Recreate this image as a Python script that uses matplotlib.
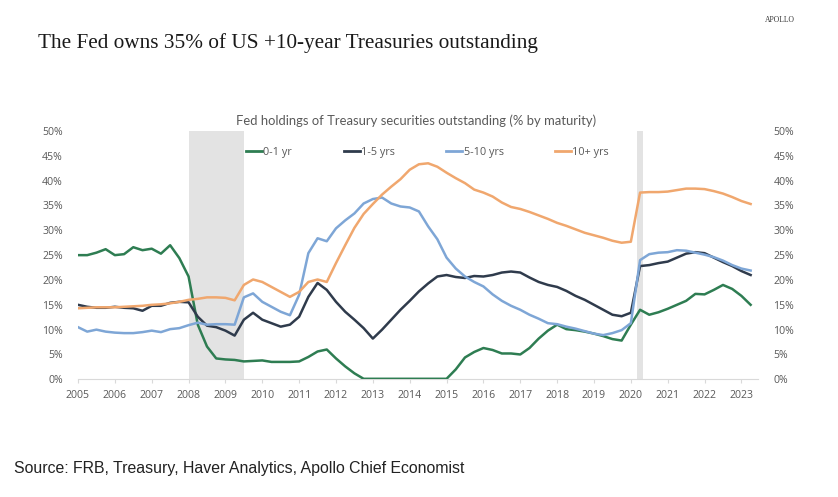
import numpy as np
import matplotlib.pyplot as plt

# quarterly observations, Q1 2005 .. Q2 2023 (% of outstanding held by the Fed)
start_year = 2005
short_0_1 = [25.0, 25.0, 25.5, 26.2,  25.0, 25.2, 26.6, 26.0,  26.3, 25.3, 27.0, 24.4,
             20.7, 11.0, 6.6, 4.2,  4.0, 3.9, 3.6, 3.7,  3.8, 3.5, 3.5, 3.5,
             3.6, 4.5, 5.6, 6.0,  4.2, 2.6, 1.2, 0.1,  0.1, 0.1, 0.1, 0.1,
             0.1, 0.1, 0.1, 0.1,  0.1, 2.0, 4.4, 5.5,  6.3, 5.9, 5.2, 5.2,
             5.0, 6.3, 8.2, 9.8,  11.0, 10.1, 9.9, 9.6,  9.2, 8.7, 8.1, 7.8,
             11.0, 14.0, 13.0, 13.5,  14.2, 15.0, 15.8, 17.2,  17.1, 18.0, 19.0, 18.2,
             16.8, 15.0]
mid_1_5 = [15.0, 14.6, 14.4, 14.4,  14.6, 14.4, 14.3, 13.8,  14.8, 14.8, 15.4, 15.6,
           15.5, 12.6, 10.8, 10.5,  9.8, 8.8, 12.0, 13.4,  12.0, 11.3, 10.6, 11.0,
           12.6, 16.6, 19.4, 18.0,  15.6, 13.6, 12.0, 10.3,  8.2, 10.0, 12.0, 14.0,
           15.8, 17.7, 19.3, 20.7,  21.0, 20.6, 20.4, 20.8,  20.7, 21.0, 21.5, 21.7,
           21.5, 20.5, 19.6, 19.0,  18.6, 17.8, 16.8, 16.0,  15.0, 14.0, 13.0, 12.7,
           13.4, 22.8, 23.0, 23.4,  23.7, 24.5, 25.3, 25.6,  25.4, 24.5, 23.6, 22.8,
           21.8, 21.0]
mid_5_10 = [10.5, 9.6, 10.0, 9.6,  9.4, 9.3, 9.3, 9.5,  9.8, 9.5, 10.1, 10.3,
            10.9, 11.4, 11.0, 11.1,  11.1, 11.0, 16.5, 17.3,  15.6, 14.6, 13.6, 12.9,
            17.0, 25.4, 28.4, 27.8,  30.4, 32.0, 33.4, 35.4,  36.3, 36.6, 35.4, 34.8,
            34.6, 33.8, 30.8, 28.2,  24.5, 22.3, 20.7, 19.6,  18.7, 17.1, 15.8, 14.8,
            14.0, 13.0, 12.2, 11.3,  11.1, 10.6, 10.2, 9.7,  9.2, 8.9, 9.3, 9.9,
            11.3, 24.0, 25.2, 25.5,  25.6, 26.0, 25.9, 25.5,  25.1, 24.6, 23.9, 23.0,
            22.3, 21.9]
long_10 = [14.3, 14.4, 14.5, 14.5,  14.5, 14.6, 14.7, 14.8,  15.0, 15.1, 15.3, 15.6,
           16.0, 16.2, 16.5, 16.5,  16.4, 15.9, 19.0, 20.1,  19.6, 18.6, 17.6, 16.6,
           17.6, 19.6, 20.1, 19.6,  23.4, 27.0, 30.5, 33.3,  35.3, 37.2, 38.8, 40.3,
           42.2, 43.3, 43.5, 42.8,  41.6, 40.5, 39.5, 38.2,  37.6, 36.8, 35.6, 34.7,
           34.3, 33.7, 33.0, 32.3,  31.5, 30.9, 30.2, 29.5,  29.0, 28.5, 27.9, 27.5,
           27.7, 37.6, 37.7, 37.7,  37.8, 38.1, 38.4, 38.4,  38.3, 37.9, 37.4, 36.7,
           35.9, 35.3]

series_names = ["0-1 yr", "1-5 yrs", "5-10 yrs", "10+ yrs"]
series_colors = ["#2e7d52", "#2f3b4c", "#7ea6d6", "#f0a76e"]
recessions = [(2008.0, 2009.5), (2020.17, 2020.33)]
year_ticks = list(range(2005, 2024))

t = start_year + np.arange(len(short_0_1)) / 4.0

fig = plt.figure(figsize=(8.38, 4.97), dpi=100)
ax = fig.add_axes([78 / 838, 1 - 379.3 / 497, 680 / 838, 248.3 / 497])

for a, b in recessions:
    ax.axvspan(a, b, color="#e3e3e3", lw=0, zorder=0)

for vals, name, col in zip([short_0_1, mid_1_5, mid_5_10, long_10], series_names, series_colors):
    ax.plot(t, vals, color=col, lw=1.8, label=name, zorder=3)

ax.set_xlim(2005, 2023.45)
ax.set_ylim(0, 50)
ax.set_xticks(year_ticks)
ax.set_xticklabels([str(y) for y in year_ticks])
ax.set_yticks(range(0, 51, 5))
ax.set_yticklabels([f"{v}%" for v in range(0, 51, 5)])
for s in ["top", "left", "right"]:
    ax.spines[s].set_visible(False)
ax.spines["bottom"].set_color("#d9d9d9")
ax.tick_params(axis="x", colors="#595959", length=3, color="#d9d9d9", pad=5, labelsize=7.6)
ax.tick_params(axis="y", colors="#595959", length=0, pad=11, labelsize=7.6,
               labelright=True, right=False)
for lbl in ax.get_xticklabels():
    lbl.set_family("Open Sans")
for tk in ax.yaxis.get_major_ticks():
    tk.label1.set_family("Open Sans")
    tk.label2.set_family("Open Sans")
    tk.label2.set_color("#595959")

leg = fig.legend(loc="center left", bbox_to_anchor=(246 / 838, 1 - 152 / 497), ncol=4,
                 frameon=False, handlelength=1.5, handletextpad=0.1,
                 columnspacing=4.75, borderpad=0, borderaxespad=0,
                 prop={"family": "Open Sans", "size": 7.8})
for txt in leg.get_texts():
    txt.set_color("#595959")
for ln in leg.get_lines():
    ln.set_linewidth(2)

fig.text(416 / 838, 1 - 121 / 497, "Fed holdings of Treasury securities outstanding (% by maturity)",
         ha="center", va="center", fontsize=9.4, color="#595959", family="Lato")
fig.text(38 / 838, 1 - 43 / 497, "The Fed owns 35% of US +10-year Treasuries outstanding",
         ha="left", va="center", fontsize=15.3, color="#1a1a1a", family="Liberation Serif")
fig.text(795 / 838, 1 - 20 / 497, "APOLLO", ha="right", va="center", fontsize=5.5,
         color="#333333", family="Liberation Serif")
fig.text(14 / 838, 1 - 469 / 497, "Source: FRB, Treasury, Haver Analytics, Apollo Chief Economist",
         ha="left", va="center", fontsize=11.4, color="#222222", family="Liberation Sans")

fig.savefig("out.png", dpi=100)
